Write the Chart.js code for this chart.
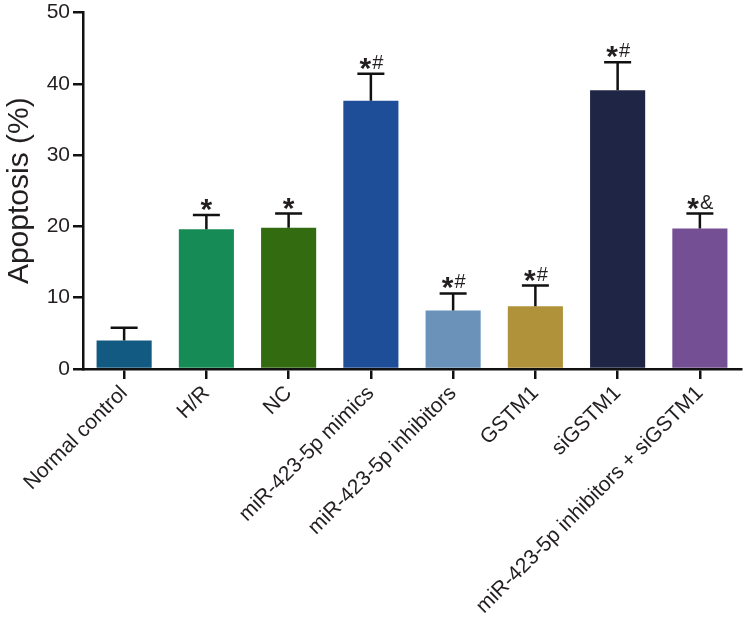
<!DOCTYPE html>
<html>
<head>
<meta charset="utf-8">
<script src="https://cdn.jsdelivr.net/npm/chart.js@4/dist/chart.umd.min.js"></script>
<style>
    html, body { margin: 0; padding: 0; background: #fff; }
    #wrap { width: 746px; height: 623px; }
</style>
</head>
<body>
<div id="wrap"><canvas id="chart" width="746" height="623"></canvas></div>
<script>
    // Data
    const groups = ['Normal control', 'H/R', 'NC', 'miR-423-5p mimics', 'miR-423-5p inhibitors', 'GSTM1', 'siGSTM1', 'miR-423-5p inhibitors + siGSTM1'];
    const apoptosis = [4.0, 19.6, 19.8, 37.6, 8.2, 8.8, 39.1, 19.7];
    const errors = [1.8, 2.0, 2.0, 3.8, 2.4, 2.9, 3.9, 2.1];
    const marks = ['', '*', '*', '*#', '*#', '*#', '*#', '*&'];
    const barColors = ['#135a82', '#168b55', '#336b11', '#1f4e98', '#6b93b9', '#b0923a', '#1f2645', '#744f93'];
    const yTicks = [0, 10, 20, 30, 40, 50];

    const FONT = 'Arial, "Liberation Sans", sans-serif';

    // upper-only error bars with caps
    const errorBars = {
        id: 'errorBars',
        afterDatasetsDraw(chart) {
            const ctx = chart.ctx;
            const meta = chart.getDatasetMeta(0);
            const y = chart.scales.y;
            ctx.save();
            ctx.strokeStyle = '#111';
            ctx.lineWidth = 2.5;
            meta.data.forEach((bar, i) => {
                const top = y.getPixelForValue(apoptosis[i] + errors[i]);
                ctx.beginPath();
                ctx.moveTo(bar.x, bar.y);
                ctx.lineTo(bar.x, top);
                ctx.moveTo(bar.x - 13.5, top);
                ctx.lineTo(bar.x + 13.5, top);
                ctx.stroke();
            });
            ctx.restore();
        }
    };

    // significance marks above the caps
    const sigMarks = {
        id: 'sigMarks',
        afterDatasetsDraw(chart) {
            const ctx = chart.ctx;
            const meta = chart.getDatasetMeta(0);
            const y = chart.scales.y;
            ctx.save();
            ctx.fillStyle = '#231f20';
            ctx.textBaseline = 'alphabetic';
            ctx.textAlign = 'left';
            meta.data.forEach((bar, i) => {
                const m = marks[i];
                if (!m) return;
                const cy = y.getPixelForValue(apoptosis[i] + errors[i]) - 13;
                const star = m[0], rest = m.slice(1);
                ctx.font = 'bold 30px ' + FONT;
                const ws = ctx.measureText(star).width;
                ctx.font = '20px ' + FONT;
                const wr = rest ? ctx.measureText(rest).width : 0;
                let x = bar.x - (ws + wr) / 2;
                ctx.font = 'bold 30px ' + FONT;
                ctx.fillText(star, x, cy + 17);
                if (rest) {
                    ctx.font = '20px ' + FONT;
                    ctx.fillText(rest, x + ws + 1, cy + 8);
                }
            });
            ctx.restore();
        }
    };

    new Chart(document.getElementById('chart'), {
        type: 'bar',
        data: {
            labels: groups,
            datasets: [{
                data: apoptosis,
                backgroundColor: barColors,
                borderWidth: 0,
                barPercentage: 0.67,
                categoryPercentage: 1.0
            }]
        },
        options: {
            responsive: false,
            animation: false,
            layout: { padding: { top: 0, right: 5, left: 0, bottom: 0 } },
            plugins: { legend: { display: false }, tooltip: { enabled: false } },
            scales: {
                x: {
                    grid: { display: true, offset: false, drawOnChartArea: false, drawTicks: true, tickLength: 10, color: '#111', lineWidth: 2.5 },
                    border: { display: true, color: '#111', width: 2.5 },
                    ticks: { color: '#231f20', font: { family: FONT, size: 21 }, minRotation: 45, maxRotation: 45, padding: 2, autoSkip: false },
                    afterFit(scale) { scale.height = 254; }
                },
                y: {
                    min: 0,
                    max: 50,
                    afterBuildTicks(scale) { scale.ticks = yTicks.map(v => ({ value: v })); },
                    grid: { display: true, drawOnChartArea: false, drawTicks: true, tickLength: 10, color: '#111', lineWidth: 2.5 },
                    border: { display: true, color: '#111', width: 2.5 },
                    ticks: { color: '#231f20', font: { family: FONT, size: 21, lineHeight: 0.9 }, padding: 3 },
                    title: { display: true, text: 'Apoptosis (%)', color: '#231f20', font: { family: FONT, size: 30 }, padding: { top: 2, bottom: 4 } },
                    afterFit(scale) { scale.width = 83; }
                }
            }
        },
        plugins: [errorBars, sigMarks]
    });
</script>
</body>
</html>
